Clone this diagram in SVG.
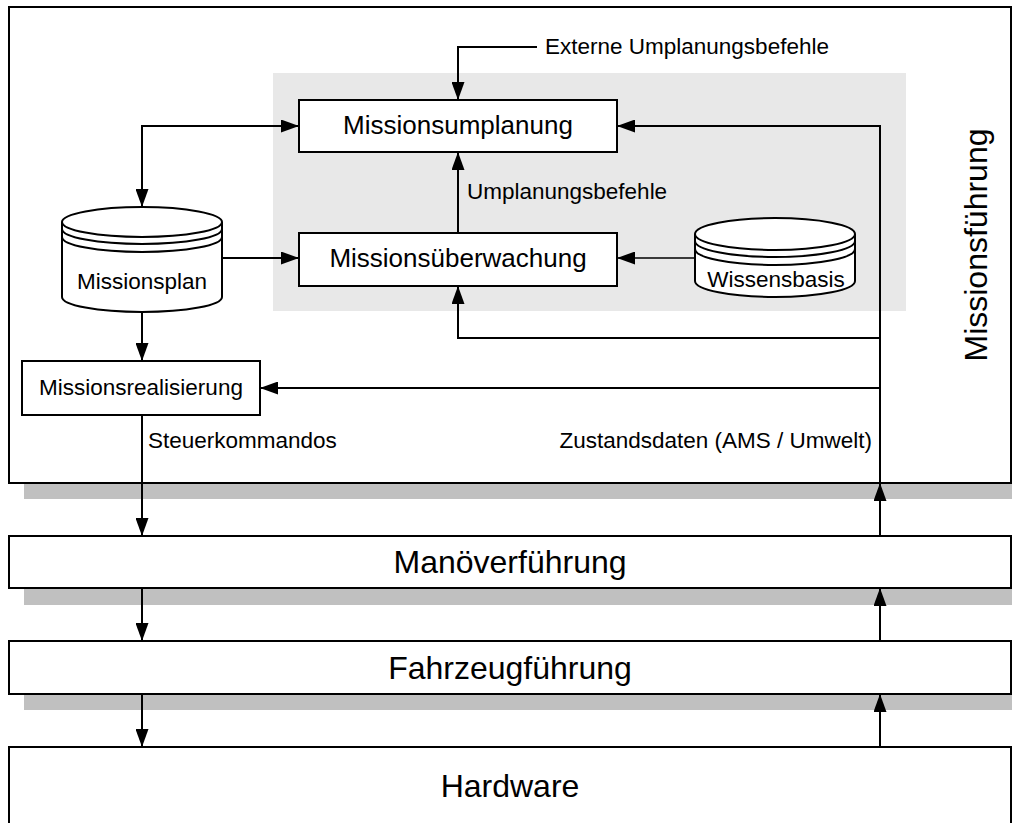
<svg xmlns="http://www.w3.org/2000/svg" width="1012" height="823" viewBox="0 0 1012 823">
  <defs>
    <marker id="arrow" markerUnits="userSpaceOnUse" markerWidth="18" markerHeight="13" refX="18" refY="6.5" orient="auto-start-reverse">
      <path d="M0,0 L18,6.5 L0,13 z" fill="#000"/>
    </marker>
    <style>
      .box { fill: #fff; stroke: #000; stroke-width: 2; }
      .shadow { fill: #c0c0c0; }
      .zone { fill: #e8e8e8; }
      .cyl { fill: #fff; stroke: #000; stroke-width: 2; }
      .cylline { fill: none; stroke: #000; stroke-width: 2; }
      .link { fill: none; stroke: #000; stroke-width: 2; }
      .thin { fill: none; stroke: #000; stroke-width: 1.3; }
      text { font-family: "Liberation Sans", Arial, Helvetica, sans-serif; fill: #000; }
      .big { font-size: 32px; text-anchor: middle; }
      .mid { font-size: 26px; text-anchor: middle; }
      .small { font-size: 22.5px; }
      .smallc { font-size: 22.5px; text-anchor: middle; }
    </style>
  </defs>

  <rect width="1012" height="823" fill="#fff"/>

  <!-- layer shadows -->
  <rect class="shadow" x="24" y="484" width="988" height="15"/>
  <rect class="shadow" x="24" y="589" width="988" height="16"/>
  <rect class="shadow" x="24" y="694" width="988" height="16"/>

  <!-- mission management layer -->
  <g id="missionsfuehrung">
    <rect class="box" x="9" y="7" width="1002" height="476"/>
    <text class="big" transform="translate(987,245) rotate(-90)">Missionsführung</text>
  </g>

  <rect class="zone" x="273" y="73" width="633" height="238"/>

  <g id="manoeverfuehrung">
    <rect class="box" x="9" y="536" width="1002" height="52"/>
    <text class="big" x="510" y="573">Manöverführung</text>
  </g>

  <g id="fahrzeugfuehrung">
    <rect class="box" x="9" y="641" width="1002" height="53"/>
    <text class="big" x="510" y="679">Fahrzeugführung</text>
  </g>

  <g id="hardware">
    <rect class="box" x="9" y="747" width="1002" height="80"/>
    <text class="big" x="510" y="797">Hardware</text>
  </g>

  <g id="missionsumplanung">
    <rect class="box" x="299" y="100" width="318" height="52"/>
    <text class="mid" x="458" y="134">Missionsumplanung</text>
  </g>

  <g id="missionsueberwachung">
    <rect class="box" x="299" y="233" width="318" height="53"/>
    <text class="mid" x="458" y="267">Missionsüberwachung</text>
  </g>

  <g id="missionsrealisierung">
    <rect class="box" x="22" y="361" width="238" height="54"/>
    <text class="smallc" x="141" y="395">Missionsrealisierung</text>
  </g>

  <!-- data stores -->
  <g id="missionsplan">
    <path class="cyl" d="M62,222 L62,297 A80,15 0 0 0 222,297 L222,222 A80,15 0 0 0 62,222 Z"/>
    <path class="cylline" d="M62,222 A80,15 0 0 0 222,222"/>
    <path class="cylline" d="M62,229 A80,15 0 0 0 222,229"/>
    <path class="cylline" d="M62,237 A80,15 0 0 0 222,237"/>
    <text class="smallc" x="142" y="289">Missionsplan</text>
  </g>

  <g id="wissensbasis">
    <path class="cyl" d="M695,234 L695,281 A80,16 0 0 0 855,281 L855,234 A80,16 0 0 0 695,234 Z"/>
    <path class="cylline" d="M695,234 A80,16 0 0 0 855,234"/>
    <path class="cylline" d="M695,241 A80,16 0 0 0 855,241"/>
    <path class="cylline" d="M695,249 A80,16 0 0 0 855,249"/>
    <text class="smallc" x="776" y="287">Wissensbasis</text>
  </g>

  <!-- connectors -->
  <g id="connectors">
    <path class="link" d="M537,47 L458,47 L458,100" marker-end="url(#arrow)"/>
    <path class="link" d="M142,207 L142,126 L299,126" marker-start="url(#arrow)" marker-end="url(#arrow)"/>
    <path class="link" d="M222,258 L299,258" marker-end="url(#arrow)"/>
    <path class="thin" d="M695,258 L617,258" marker-end="url(#arrow)"/>
    <path class="link" d="M458,233 L458,152" marker-end="url(#arrow)"/>
    <path class="link" d="M142,312 L142,361" marker-end="url(#arrow)"/>
    <path class="link" d="M142,415 L142,536" marker-end="url(#arrow)"/>
    <path class="link" d="M880,536 L880,126 L617,126" marker-end="url(#arrow)"/>
    <path class="link" d="M880,338 L458,338 L458,286" marker-end="url(#arrow)"/>
    <path class="link" d="M880,388 L260,388" marker-end="url(#arrow)"/>
    <path class="link" d="M880,536 L880,483" marker-end="url(#arrow)"/>
    <path class="link" d="M142,588 L142,641" marker-end="url(#arrow)"/>
    <path class="link" d="M880,641 L880,588" marker-end="url(#arrow)"/>
    <path class="link" d="M142,694 L142,747" marker-end="url(#arrow)"/>
    <path class="link" d="M880,747 L880,694" marker-end="url(#arrow)"/>
  </g>

  <!-- connector labels -->
  <text class="small" x="545" y="54">Externe Umplanungsbefehle</text>
  <text class="small" x="467" y="199">Umplanungsbefehle</text>
  <text class="small" x="148" y="448">Steuerkommandos</text>
  <text class="small" x="872" y="448" text-anchor="end">Zustandsdaten (AMS / Umwelt)</text>
</svg>
